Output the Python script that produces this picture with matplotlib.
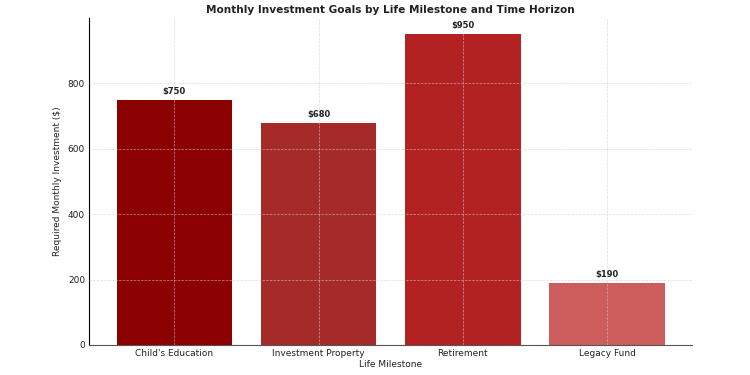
import matplotlib
matplotlib.use("Agg")
import matplotlib.pyplot as plt

# Data
milestones = ["Child's Education", "Investment Property", "Retirement", "Legacy Fund"]
monthly_investment = [750, 680, 950, 190]
bar_colors = ["#8B0000", "#A52A2A", "#B22222", "#CD5C5C"]

fig = plt.figure(figsize=(7.5, 3.75), dpi=100)
ax = fig.add_axes([0.119, 0.08, 0.804, 0.872])

bars = ax.bar(milestones, monthly_investment, color=bar_colors, width=0.8)

for bar, val in zip(bars, monthly_investment):
    ax.text(bar.get_x() + bar.get_width() / 2, val + 12, f"${val}",
            ha="center", va="bottom", fontsize=6, fontweight="bold", color="#222222")

ax.set_ylim(0, 1000)
ax.set_yticks([0, 200, 400, 600, 800])
ax.set_title("Monthly Investment Goals by Life Milestone and Time Horizon",
             fontsize=7.6, fontweight="bold", color="#222222", pad=3.5)
ax.set_xlabel("Life Milestone", fontsize=6.5, labelpad=1, color="#222222")
ax.set_ylabel("Required Monthly Investment ($)", fontsize=6.5, color="#222222")
ax.tick_params(axis="both", length=0, labelsize=6.5, pad=3, labelcolor="#222222")

ax.grid(True, linestyle="--", linewidth=0.5, color="#cccccc", alpha=0.7)
ax.set_axisbelow(False)
ax.spines["top"].set_visible(False)
ax.spines["right"].set_visible(False)
ax.spines["bottom"].set_color("#555555")

fig.savefig("out.png", dpi=100)
